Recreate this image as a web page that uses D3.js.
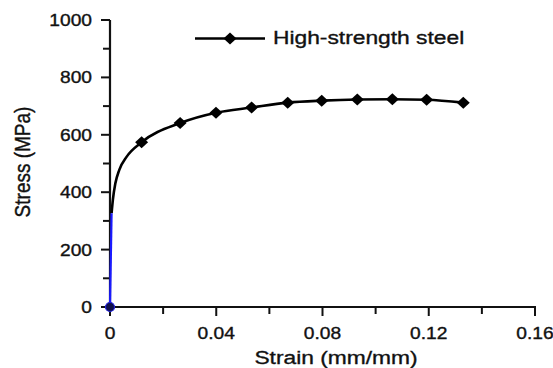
<!DOCTYPE html>
<html>
<head>
<meta charset="utf-8">
<script src="https://cdn.jsdelivr.net/npm/d3@7"></script>
<style>
  body { margin: 0; background: #fff; }
  text { font-family: "Liberation Sans", Arial, sans-serif; fill: #111; stroke: #111; stroke-width: 0.35px; }
</style>
</head>
<body>
<svg id="chart" width="553" height="368"></svg>
<script>
// measured points with diamond markers (strain mm/mm, stress MPa)
var markerStrain = [0.0119, 0.0264, 0.0399, 0.0533, 0.0669, 0.0797, 0.0931, 0.1063, 0.1192, 0.1330];
var markerStress = [574, 641, 677, 695, 712, 719, 723, 724, 722, 712];

// elastic part near the origin (drawn blue) and the knee of the curve
var elasticStrain = [0, 0.0006];
var elasticStress = [0, 327];
var kneeStrain = [0.0006, 0.0011, 0.0020, 0.0035, 0.0063];
var kneeStress = [327, 375, 430, 478, 524];

var xTicks = [0, 0.02, 0.04, 0.06, 0.08, 0.10, 0.12, 0.14, 0.16];
var xLabels = [0, 0.04, 0.08, 0.12, 0.16];
var yTicks = [0, 100, 200, 300, 400, 500, 600, 700, 800, 900, 1000];
var yLabels = [0, 200, 400, 600, 800, 1000];

var seriesName = 'High-strength steel';
var xTitle = 'Strain (mm/mm)';
var yTitle = 'Stress (MPa)';

var svg = d3.select('#chart');
var stretch = 1.2; // the source picture is a bit wider than tall

var x = d3.scaleLinear().domain([0, 0.16]).range([110, 535]);
var y = d3.scaleLinear().domain([0, 1000]).range([307, 20]);

var axisColor = '#111';

// ---- axes
svg.append('line')
    .attr('x1', x(0)).attr('x2', x(0))
    .attr('y1', y(0) + 1).attr('y2', y(1000))
    .attr('stroke', axisColor).attr('stroke-width', 2.2);
svg.append('line')
    .attr('x1', x(0) - 1).attr('x2', x(0.16) + 1)
    .attr('y1', y(0)).attr('y2', y(0))
    .attr('stroke', axisColor).attr('stroke-width', 2.2);

svg.selectAll('.ytick').data(yTicks).enter().append('line')
    .attr('class', 'ytick')
    .attr('x1', x(0)).attr('x2', function(d){ return x(0) - (yLabels.indexOf(d) >= 0 ? 9 : 7); })
    .attr('y1', function(d){ return y(d); }).attr('y2', function(d){ return y(d); })
    .attr('stroke', axisColor).attr('stroke-width', 2);

svg.selectAll('.xtick').data(xTicks).enter().append('line')
    .attr('class', 'xtick')
    .attr('x1', function(d){ return x(d); }).attr('x2', function(d){ return x(d); })
    .attr('y1', y(0)).attr('y2', function(d){
        var major = xLabels.some(function(v){ return Math.abs(v - d) < 1e-9; });
        return y(0) + (major ? 9 : 7);
    })
    .attr('stroke', axisColor).attr('stroke-width', 2);

svg.selectAll('.ylab').data(yLabels).enter().append('text')
    .attr('class', 'ylab')
    .attr('transform', function(d){ return 'translate(' + (x(0) - 18) + ',' + (y(d) + 6) + ') scale(' + stretch + ',1)'; })
    .attr('text-anchor', 'end')
    .style('font-size', '16px')
    .text(function(d){ return d; });

svg.selectAll('.xlab').data(xLabels).enter().append('text')
    .attr('class', 'xlab')
    .attr('transform', function(d){ return 'translate(' + x(d) + ',' + 339 + ') scale(' + stretch + ',1)'; })
    .attr('text-anchor', 'middle')
    .style('font-size', '16px')
    .text(function(d){ return d; });

svg.append('text')
    .attr('transform', 'translate(336,364) scale(' + stretch + ',1)')
    .attr('text-anchor', 'middle')
    .style('font-size', '19px')
    .text(xTitle);

svg.append('text')
    .attr('transform', 'translate(29.5,162) rotate(-90) scale(1,' + stretch + ')')
    .attr('text-anchor', 'middle')
    .style('font-size', '19px')
    .text(yTitle);

// ---- data
var markerPts = markerStrain.map(function(d, i){ return [d, markerStress[i]]; });
var kneePts = kneeStrain.map(function(d, i){ return [d, kneeStress[i]]; });
var elasticPts = elasticStrain.map(function(d, i){ return [d, elasticStress[i]]; });

var line = d3.line()
    .x(function(d){ return x(d[0]); })
    .y(function(d){ return y(d[1]); })
    .curve(d3.curveMonotoneX);

svg.append('path')
    .datum(kneePts.concat(markerPts))
    .attr('d', line)
    .attr('fill', 'none')
    .attr('stroke', '#000')
    .attr('stroke-width', 2.6);

svg.append('path')
    .datum(elasticPts)
    .attr('d', d3.line().x(function(d){ return x(d[0]); }).y(function(d){ return y(d[1]); }))
    .attr('fill', 'none')
    .attr('stroke', '#1a1aff')
    .attr('stroke-width', 2.2);

svg.append('circle')
    .attr('cx', x(elasticStrain[0])).attr('cy', y(elasticStress[0]))
    .attr('r', 4.5)
    .attr('fill', '#10104a')
    .attr('stroke', '#2020e0').attr('stroke-width', 1.2);

function diamond(cx, cy, w, h)
{
    return 'M' + (cx - w) + ',' + cy + 'L' + cx + ',' + (cy - h) + 'L' + (cx + w) + ',' + cy + 'L' + cx + ',' + (cy + h) + 'Z';
}

svg.selectAll('.mk').data(markerPts).enter().append('path')
    .attr('class', 'mk')
    .attr('d', function(d){ return diamond(x(d[0]), y(d[1]), 6.5, 6); })
    .attr('fill', '#000');

// ---- legend
svg.append('line')
    .attr('x1', 195).attr('x2', 265).attr('y1', 38.5).attr('y2', 38.5)
    .attr('stroke', '#000').attr('stroke-width', 2.6);
svg.append('path')
    .attr('d', diamond(230, 38.5, 6.5, 6))
    .attr('fill', '#000');
svg.append('text')
    .attr('transform', 'translate(273,44) scale(' + stretch + ',1)')
    .style('font-size', '19px')
    .text(seriesName);
</script>
</body>
</html>
